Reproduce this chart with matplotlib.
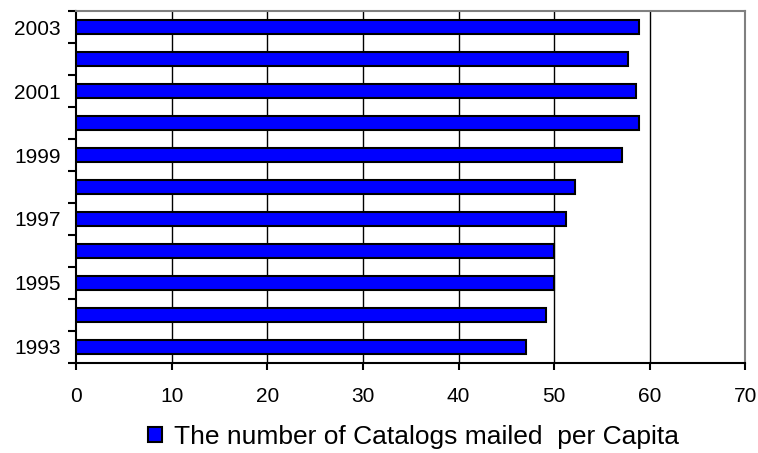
import matplotlib
matplotlib.use('Agg')
import matplotlib.pyplot as plt
import numpy as np

# catalogs mailed per capita, 1993..2003
years = [1993, 1994, 1995, 1996, 1997, 1998, 1999, 2000, 2001, 2002, 2003]
catalogs = [47.0, 49.1, 50.0, 50.0, 51.2, 52.2, 57.1, 58.9, 58.5, 57.7, 58.9]
x_ticks = [0, 10, 20, 30, 40, 50, 60, 70]
series_name = 'The number of Catalogs mailed  per Capita'

plt.rcParams['font.family'] = ['Liberation Sans', 'DejaVu Sans']

fig = plt.figure(figsize=(7.58, 4.53), dpi=100)
ax = fig.add_axes([0.1003, 0.1987, 0.8832, 0.7770])

pos = np.arange(len(years))
ax.barh(pos, catalogs, height=0.44, color='#0000ff', edgecolor='black',
        linewidth=1.5, zorder=3, label=series_name)

ax.set_xlim(0, 70)
ax.set_ylim(-0.5, len(years) - 0.5)

# vertical grid lines
for v in x_ticks[1:-1]:
    ax.axvline(v, color='black', linewidth=1, zorder=1)

ax.set_xticks(x_ticks)
ax.set_xticklabels([str(t) for t in x_ticks], fontsize=15)
ax.tick_params(axis='x', direction='out', length=5, width=1.5, pad=12.5)

# ticks at category boundaries, labels on every other year
ax.set_yticks(np.arange(-0.5, len(years), 1.0))
ax.set_yticklabels([])
ax.tick_params(axis='y', which='major', direction='out', length=6, width=1.5)
odd = [i for i, y in enumerate(years) if y % 2 == 1]
ax.set_yticks(odd, minor=True)
ax.set_yticklabels([str(years[i]) for i in odd], minor=True, fontsize=15)
ax.tick_params(axis='y', which='minor', length=0, pad=11)

ax.spines['left'].set_linewidth(1.5)
ax.spines['bottom'].set_linewidth(1.5)
ax.spines['top'].set_color('#808080')
ax.spines['right'].set_color('#808080')
ax.spines['top'].set_linewidth(1.5)
ax.spines['right'].set_linewidth(1.5)

fig.legend(loc='center', bbox_to_anchor=(0.546, 0.036), frameon=False,
           fontsize=19, handlelength=0.53, handleheight=0.53,
           handletextpad=0.45, borderpad=0)

plt.savefig('out.png', dpi=100)
